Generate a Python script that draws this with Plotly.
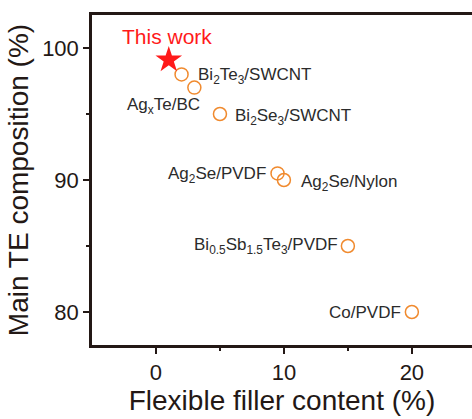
import plotly.graph_objects as go

# Data
this_x = [1]
this_y = [99.1]
others_x = [2, 3, 5, 9.5, 10, 15, 20]
others_y = [98, 97, 95, 90.5, 90, 85, 80]

labels = ["Bi<sub>2</sub>Te<sub>3</sub>/SWCNT", "Ag<sub>x</sub>Te/BC", "Bi<sub>2</sub>Se<sub>3</sub>/SWCNT",
          "Ag<sub>2</sub>Se/PVDF", "Ag<sub>2</sub>Se/Nylon",
          "Bi<sub>0.5</sub>Sb<sub>1.5</sub>Te<sub>3</sub>/PVDF", "Co/PVDF"]
label_x = [3.1, 3.6, 6.0, 8.75, 11.2, 14.4, 19.3]
label_y = [97.9, 95.6, 94.8, 90.4, 89.8, 85.0, 80.0]
label_anchor = ["left", "right", "left", "right", "left", "right", "right"]

axis_color = "#231815"
font_family = "Arial, Liberation Sans, sans-serif"

fig = go.Figure()
fig.add_trace(go.Scatter(x=others_x, y=others_y, mode="markers",
                         marker=dict(symbol="circle-open", size=13, color="#F08A2E",
                                     line=dict(width=1.5, color="#F08A2E")),
                         showlegend=False, cliponaxis=False))
fig.add_trace(go.Scatter(x=this_x, y=this_y, mode="markers",
                         marker=dict(symbol="star", size=20, color="#FF1A1A", line=dict(width=0)),
                         showlegend=False))

for t, x, y, a in zip(labels, label_x, label_y, label_anchor):
    fig.add_annotation(x=x, y=y, text=t, showarrow=False, xanchor=a, yanchor="middle",
                       font=dict(size=17, color="#2b2b2b", family=font_family))
fig.add_annotation(x=0.9, y=100.9, text="This work", showarrow=False, xanchor="center",
                   yanchor="middle", font=dict(size=21, color="#FF1A1A", family=font_family))

fig.update_layout(
    width=472, height=419,
    margin=dict(l=92, r=0, t=15, b=74),
    plot_bgcolor="white", paper_bgcolor="white",
    font=dict(family=font_family, color=axis_color),
    xaxis=dict(range=[-5, 24.7], tickvals=[0, 10, 20], ticks="outside", ticklen=6, tickwidth=2,
               tickcolor=axis_color, showline=True, linewidth=2.5, linecolor=axis_color,
               mirror=True, showgrid=False, zeroline=False,
               minor=dict(tickvals=[5, 15], ticks="outside", ticklen=3, tickwidth=2, tickcolor=axis_color),
               tickfont=dict(size=22, color=axis_color),
               title=dict(text="Flexible filler content (%)", font=dict(size=28, color=axis_color), standoff=6)),
    yaxis=dict(range=[77.5, 102.5], tickvals=[80, 90, 100], ticks="outside", ticklen=6, tickwidth=2,
               tickcolor=axis_color, showline=True, linewidth=2.5, linecolor=axis_color,
               showgrid=False, zeroline=False,
               minor=dict(tickvals=[85, 95], ticks="outside", ticklen=3, tickwidth=2, tickcolor=axis_color),
               tickfont=dict(size=22, color=axis_color),
               title=dict(text="Main TE composition (%)", font=dict(size=28, color=axis_color), standoff=6)),
)

fig.write_html("out.html")
